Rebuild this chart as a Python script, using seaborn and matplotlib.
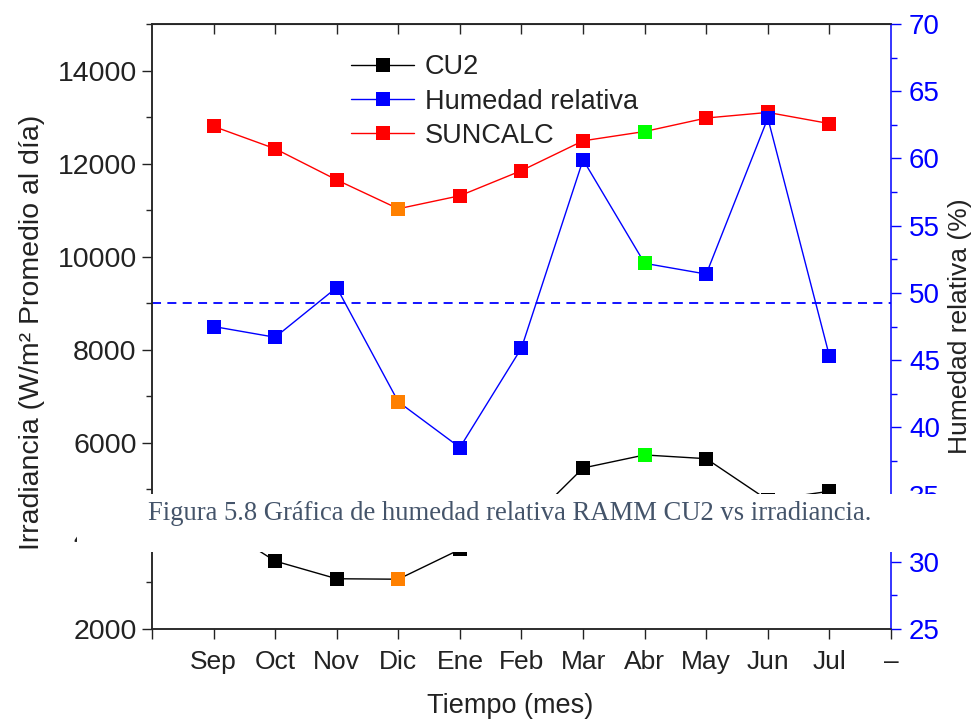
import numpy as np
import pandas as pd
import matplotlib
matplotlib.use('Agg')
import matplotlib.pyplot as plt
from matplotlib.lines import Line2D
from matplotlib.patches import Rectangle
from matplotlib.ticker import MultipleLocator
import seaborn as sns

# Values
months = ['Sep', 'Oct', 'Nov', 'Dic', 'Ene', 'Feb', 'Mar', 'Abr', 'May', 'Jun', 'Jul']
suncalc = [12800, 12320, 11650, 11030, 11310, 11850, 12490, 12690, 12980, 13100, 12860]
cu2 = [4300, 3460, 3080, 3070, 3710, 4150, 5460, 5740, 5660, 4770, 4960]
humedad = [47.5, 46.7, 50.4, 41.9, 38.5, 45.9, 59.9, 52.2, 51.4, 63.0, 45.3]
ref_line = 9000  # dashed blue line (left axis units)
highlight = {'Dic': '#ff8000', 'Abr': '#00ff00'}
xtick_labels = [''] + months + ['–']
caption = 'Figura 5.8 Gráfica de humedad relativa RAMM CU2 vs irradiancia.'

sns.set_style('ticks')
plt.rcParams['font.family'] = ['Liberation Sans', 'DejaVu Sans']
plt.rcParams['text.color'] = '#222222'
plt.rcParams['axes.labelcolor'] = '#222222'

df = pd.DataFrame({'pos': np.arange(1, len(months) + 1), 'mes': months,
                   'suncalc': suncalc, 'cu2': cu2, 'humedad': humedad})

fig = plt.figure(figsize=(9.74, 7.23), dpi=100)
ax = fig.add_axes([0.156, 0.130, 0.7588, 0.8368])
ax2 = ax.twinx()

line_kw = dict(lw=1.0, marker='s', markersize=9.5, markeredgewidth=0)
sns.lineplot(data=df, x='pos', y='suncalc', ax=ax, color='red', zorder=3, **line_kw)
sns.lineplot(data=df, x='pos', y='cu2', ax=ax, color='black', zorder=3, **line_kw)
ax.axhline(ref_line, color='blue', lw=1.3, ls=(0, (5, 3.5)), zorder=2)
sns.lineplot(data=df, x='pos', y='humedad', ax=ax2, color='blue', zorder=3, **line_kw)

# Dic / Abr markers in a different colour
for mes, col in highlight.items():
    sub = df[df['mes'] == mes]
    for axis, name in [(ax, 'suncalc'), (ax, 'cu2'), (ax2, 'humedad')]:
        axis.plot(sub['pos'], sub[name], 's', color=col, markersize=9.5,
                  markeredgewidth=0, zorder=4)

# x axis
ax.set_xlim(0, 12)
ax.set_xticks(range(len(xtick_labels)))
ax.set_xticklabels(xtick_labels)
ax.set_xlabel('Tiempo (mes)', fontsize=19.5)
ax.xaxis.set_label_coords(0.484, -0.106)
top = ax.secondary_xaxis('top')
top.set_xticks(range(1, len(months) + 1))
top.set_xticklabels([])
top.tick_params(direction='in', length=7, width=1)

# left axis
ax.set_ylim(2000, 15000)
ax.yaxis.set_major_locator(MultipleLocator(2000))
ax.yaxis.set_minor_locator(MultipleLocator(1000))
ax.set_ylabel('Irradiancia (W/m² Promedio al día)', fontsize=20.5)
ax.yaxis.set_label_coords(-0.145, 0.49)
ax.tick_params(axis='both', which='major', direction='out', length=7, width=1,
               labelsize=19, colors='#222222')
ax.tick_params(axis='y', which='major', labelsize=20.5)
ax.tick_params(axis='y', which='minor', direction='out', length=4, width=1)
ax.tick_params(axis='x', pad=8)
ax.tick_params(axis='y', pad=4)

# right axis
ax2.set_ylim(25, 70)
ax2.yaxis.set_major_locator(MultipleLocator(5))
ax2.yaxis.set_minor_locator(MultipleLocator(2.5))
ax2.set_ylabel('Humedad relativa (%)', fontsize=19)
ax2.yaxis.set_label_coords(1.077, 0.5)
ax2.tick_params(axis='y', which='major', direction='out', length=7, width=1,
                labelsize=20, colors='blue', pad=6)
ax2.tick_params(axis='y', which='minor', direction='out', length=4, width=1, colors='blue')
ax2.yaxis.label.set_color('#222222')
ax2.spines['right'].set_color('blue')
ax.spines['right'].set_visible(False)
for a in (ax, ax2):
    for s in a.spines.values():
        s.set_linewidth(1.1)

# legend
handles = [Line2D([], [], color=c, lw=1.0, marker='s', markersize=9.5, markeredgewidth=0)
           for c in ['black', 'blue', 'red']]
ax.legend(handles, ['CU2', 'Humedad relativa', 'SUNCALC'], loc='upper left',
          bbox_to_anchor=(0.237, 0.99), frameon=False, fontsize=19.5,
          handlelength=2.3, labelspacing=0.3, handletextpad=0.4)

# caption band pasted across the chart
fig.add_artist(Rectangle((77 / 974, 1 - 552 / 723), 1, 58 / 723, transform=fig.transFigure,
                         facecolor='white', edgecolor='none', zorder=10))
fig.text(0.523, 1 - 514 / 723, caption, ha='center', va='center', fontsize=19.2,
         family=['Liberation Serif', 'DejaVu Serif'], color='#44546a', zorder=11)

fig.savefig('out.png', dpi=100)
